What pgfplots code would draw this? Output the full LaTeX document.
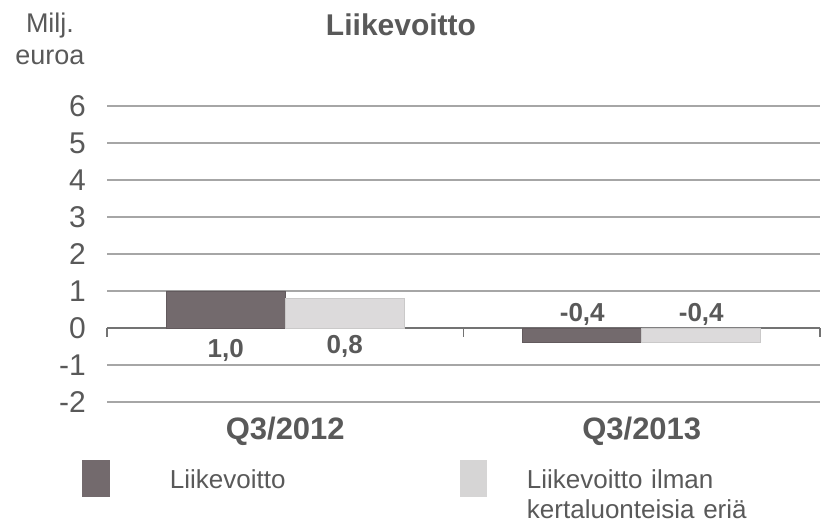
\documentclass[border=0pt]{standalone}
\usepackage{pgfplots}
\pgfplotsset{compat=1.18}
\usepackage{fontspec}
\setmainfont{Liberation Sans}
\definecolor{darkbar}{HTML}{736A6D}
\definecolor{lightbar}{HTML}{DCDADB}
\definecolor{legdark}{HTML}{736A6D}
\definecolor{leglight}{HTML}{D6D5D5}
\definecolor{txt}{HTML}{595959}
\definecolor{gridc}{HTML}{A6A6A6}
\begin{document}
\begin{tikzpicture}
\useasboundingbox (0pt,0pt) rectangle (825pt,521pt);
\begin{axis}[
  at={(107pt,119pt)}, anchor=south west,
  scale only axis, width=713pt, height=296pt,
  xmin=-0.5, xmax=1.5, ymin=-2, ymax=6,
  ybar=0pt, bar width=119pt,
  xtick={0,1}, xticklabels={Q3/2012,Q3/2013},
  ytick={-2,-1,0,1,2,3,4,5,6},
  yticklabels={-2,-1,0,1,2,3,4,5,6},
  ymajorgrids, grid style={gridc, line width=1.1pt},
  axis line style={draw=none}, major tick length=0pt,
  tick style={draw=none},
  yticklabel style={font=\fontsize{30}{34}\selectfont, text=txt, inner sep=0pt, xshift=-21pt},
  xticklabel style={font=\fontsize{31}{36}\selectfont\bfseries, text=txt, inner sep=0pt, yshift=-15pt},
  clip=false,
  legend columns=2,
  legend style={at={(axis description cs:-0.0351,-0.196)}, anchor=north west,
    draw=none, fill=none, inner sep=0pt, outer sep=0pt,
    /tikz/column sep=0pt,
    nodes={inner sep=0pt, text width=290pt, align=left, text=txt,
      font=\fontsize{26}{30}\selectfont}},
]
\draw[color=gray!90!black, line width=1.2pt] (axis cs:-0.5,0) -- (axis cs:1.5,0);
\draw[color=gray!90!black, line width=1.2pt] (axis cs:-0.5,0) -- ++(0pt,-9pt);
\draw[color=gray!90!black, line width=1.2pt] (axis cs:0.5,0) -- ++(0pt,-9pt);
\draw[color=gray!90!black, line width=1.2pt] (axis cs:1.5,0) -- ++(0pt,-9pt);
\addplot[fill=darkbar, draw=darkbar!85!black, line width=0.8pt,
  legend image code/.code={\fill[legdark,draw=none] (0pt,-17pt) rectangle (28pt,20pt); \path[draw=none,fill=none] (0pt,0pt) -- (88pt,0pt);}]
  coordinates {(0,1.0) (1,-0.4)};
\addplot[fill=lightbar, draw=lightbar!92!black, line width=0.8pt,
  legend image code/.code={\fill[leglight,draw=none] (0pt,-17pt) rectangle (27pt,20pt); \path[draw=none,fill=none] (0pt,0pt) -- (67pt,0pt);}]
  coordinates {(0,0.8) (1,-0.4)};
\legend{Liikevoitto, Liikevoitto ilman\\kertaluonteisia eriä}
\node[text=txt, font=\fontsize{26}{30}\selectfont\bfseries] at (axis cs:0,-0.62) [xshift=-59.5pt] {1,0};
\node[text=txt, font=\fontsize{26}{30}\selectfont\bfseries] at (axis cs:0,-0.49) [xshift=59.5pt] {0,8};
\node[text=txt, font=\fontsize{26}{30}\selectfont\bfseries] at (axis cs:1,0.38) [xshift=-59.5pt] {-0,4};
\node[text=txt, font=\fontsize{26}{30}\selectfont\bfseries] at (axis cs:1,0.38) [xshift=59.5pt] {-0,4};
\end{axis}
\node[text=txt, font=\fontsize{30}{36}\selectfont\bfseries] at (401pt,496pt) {Liikevoitto};
\node[text=txt, font=\fontsize{27}{32}\selectfont] at (50pt,495pt) {Milj.};
\node[text=txt, font=\fontsize{27}{32}\selectfont] at (50pt,464pt) {euroa};
\end{tikzpicture}
\end{document}
